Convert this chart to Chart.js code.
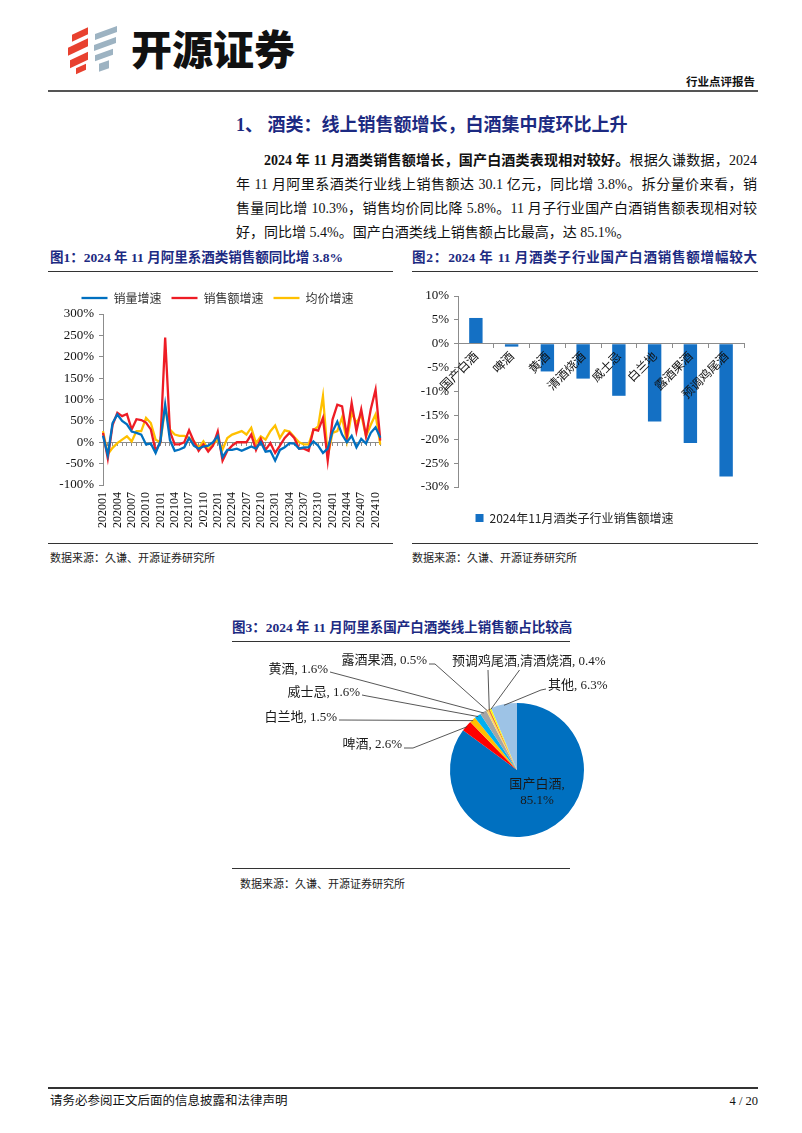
<!DOCTYPE html>
<html><head><meta charset="utf-8">
<script src="https://cdn.jsdelivr.net/npm/chart.js@4.4.1/dist/chart.umd.min.js"></script>
<style>
html,body{margin:0;padding:0;background:#fff;}
body{width:802px;height:1133px;position:relative;overflow:hidden;font-family:"Liberation Serif","Noto Sans CJK SC",serif;color:#111;}
.abs{position:absolute;white-space:nowrap;}
.hr{position:absolute;height:0;border-top:1.5px solid #333;}
.ftitle{position:absolute;font-weight:bold;color:#1c2a82;font-size:13.5px;line-height:16px;white-space:nowrap;}
.src{position:absolute;font-size:11px;color:#222;white-space:nowrap;}
.pl{position:absolute;left:236px;width:521px;font-size:14px;line-height:18px;text-align:justify;text-align-last:justify;white-space:nowrap;}
canvas{position:absolute;}
.lg{position:absolute;}
</style></head>
<body>
<!-- logo -->
<div class="lg" style="left:72px;top:31px;width:16px;height:7px;background:#e8412f;transform:skewY(-25deg);"></div>
<div class="lg" style="left:68px;top:43px;width:20px;height:8px;background:#e8412f;transform:skewY(-25deg);"></div>
<div class="lg" style="left:70px;top:56px;width:18px;height:8px;background:#e8412f;transform:skewY(-25deg);"></div>
<div class="lg" style="left:76px;top:66px;width:10px;height:6px;background:#e8412f;transform:skewY(-25deg);"></div>
<div class="lg" style="left:95px;top:30px;width:22px;height:6px;background:#9db3c2;transform:skewY(-20deg);"></div>
<div class="lg" style="left:94px;top:41px;width:22px;height:6px;background:#9db3c2;transform:skewY(-20deg);"></div>
<div class="lg" style="left:95px;top:52px;width:18px;height:6px;background:#9db3c2;transform:skewY(-20deg);"></div>
<div class="lg" style="left:99px;top:62px;width:10px;height:8px;background:#9db3c2;transform:skewY(-20deg);"></div>
<div class="abs" style="left:131px;top:22px;font-family:'Noto Sans CJK SC';font-weight:900;font-size:41px;line-height:50px;color:#111;">开源证券</div>
<div class="abs" style="left:686px;top:74px;font-family:'Noto Sans CJK SC';font-weight:bold;font-size:11.5px;line-height:14px;">行业点评报告</div>
<div class="hr" style="left:48px;top:90px;width:710px;border-top:2px solid #555;"></div>

<div class="abs" style="left:236px;top:113px;font-size:18px;line-height:24px;font-weight:bold;color:#1c2a82;">1、 酒类：线上销售额增长，白酒集中度环比上升</div>

<div class="pl" style="top:152px;left:264px;width:493px;"><b>2024 年 11 月酒类销售额增长，国产白酒类表现相对较好。</b>根据久谦数据，2024</div>
<div class="pl" style="top:176px;">年 11 月阿里系酒类行业线上销售额达 30.1 亿元，同比增 3.8%。拆分量价来看，销</div>
<div class="pl" style="top:200px;">售量同比增 10.3%，销售均价同比降 5.8%。11 月子行业国产白酒销售额表现相对较</div>
<div class="pl" style="top:224px;text-align-last:left;">好，同比增 5.4%。国产白酒类线上销售额占比最高，达 85.1%。</div>

<div class="ftitle" style="left:50px;top:250px;">图1：2024 年 11 月阿里系酒类销售额同比增 3.8%</div>
<div class="ftitle" style="left:412px;top:250px;width:345px;text-align:justify;text-align-last:justify;">图2：2024 年 11 月酒类子行业国产白酒销售额增幅较大</div>
<div class="hr" style="left:48px;top:271px;width:345px;"></div>
<div class="hr" style="left:412px;top:271px;width:346px;"></div>

<canvas id="c1" width="357" height="265" style="left:40px;top:280px;"></canvas>
<canvas id="c2" width="350" height="254" style="left:405px;top:280px;"></canvas>

<div class="hr" style="left:48px;top:543px;width:345px;"></div>
<div class="hr" style="left:412px;top:543px;width:346px;"></div>
<div class="src" style="left:50px;top:549px;">数据来源：久谦、开源证券研究所</div>
<div class="src" style="left:412px;top:549px;">数据来源：久谦、开源证券研究所</div>

<div class="ftitle" style="left:232px;top:620px;width:338px;text-align:center;">图3：2024 年 11 月阿里系国产白酒类线上销售额占比较高</div>
<div class="hr" style="left:232px;top:641px;width:338px;"></div>
<canvas id="c3" width="388" height="225" style="left:232px;top:641px;"></canvas>
<div class="hr" style="left:232px;top:868px;width:338px;"></div>
<div class="src" style="left:240px;top:875px;">数据来源：久谦、开源证券研究所</div>

<div class="hr" style="left:48px;top:1087px;width:710px;border-top:2px solid #333;"></div>
<div class="abs" style="left:50px;top:1093px;font-size:12.5px;line-height:16px;">请务必参阅正文后面的信息披露和法律声明</div>
<div class="abs" style="left:718px;top:1093px;width:40px;text-align:right;font-size:12.5px;line-height:16px;">4 / 20</div>

<script>
// ---------- Figure 1 data ----------
const months = ['202001','202002','202003','202004','202005','202006','202007','202008','202009','202010','202011','202012',
'202101','202102','202103','202104','202105','202106','202107','202108','202109','202110','202111','202112',
'202201','202202','202203','202204','202205','202206','202207','202208','202209','202210','202211','202212',
'202301','202302','202303','202304','202305','202306','202307','202308','202309','202310','202311','202312',
'202401','202402','202403','202404','202405','202406','202407','202408','202409','202410','202411'];
const volumeGrowth = [15,-30,45,65,50,42,25,22,18,-5,-3,-25,2,88,5,-20,-17,-12,10,-8,-15,-10,-8,0,15,-35,-18,-18,-15,-20,-15,-10,-15,0,-22,-20,-43,-18,-12,-2,-3,-15,-12,-12,2,-8,-25,-15,25,48,18,0,15,-12,8,-3,22,35,10.3];
const salesGrowth = [22,-38,40,69,61,66,30,54,52,46,30,-20,0,245,25,-5,-5,0,28,2,-20,-5,-22,-8,25,-43,-20,-8,0,0,0,18,-18,8,-18,-2,-25,-8,10,22,10,-15,-15,-20,30,27,57,-43,53,88,84,14,92,26,77,14,77,123,3.8];
const priceGrowth = [26,-28,-13,-2,6,14,2,26,26,57,45,6,0,82,30,18,15,15,10,2,-13,2,-17,-5,6,-17,10,18,22,26,18,34,-2,14,6,26,39,10,28,25,12,0,-5,-5,28,37,108,-33,22,26,58,2,69,45,65,14,41,65,-5.8];
const seriesNames1 = ['销量增速','销售额增速','均价增速'];
const yTicks1 = {min:-100, max:300, step:50};

// ---------- Figure 2 data ----------
const subCategories = ['国产白酒','啤酒','黄酒','清酒烧酒','威士忌','白兰地','露酒果酒','预调鸡尾酒'];
const subGrowth = [5.4,-0.6,-5.8,-7.3,-10.9,-16.3,-20.8,-27.8];
const seriesName2 = '2024年11月酒类子行业销售额增速';
const yTicks2 = {min:-30, max:10, step:5};

// ---------- Figure 3 data ----------
const shareNames = ['国产白酒','啤酒','白兰地','威士忌','黄酒','露酒果酒','预调鸡尾酒','清酒烧酒','其他'];
const shareValues = [85.1,2.6,1.5,1.6,1.6,0.5,0.4,0.4,6.3];

// ---------- styles ----------
Chart.defaults.animation = false;
Chart.defaults.font.family = '"Liberation Serif","Noto Sans CJK SC",serif';
Chart.defaults.color = '#111';
const NUM_FONT = {family:'"Liberation Serif","Noto Sans CJK SC",serif', size:13};
const CJK_FONT = {family:'"Noto Sans CJK SC","Liberation Serif",sans-serif', size:12};
const AXIS_GRAY = '#8c8c8c';

// Figure 1
new Chart(document.getElementById('c1'), {
  type:'line',
  data:{labels:months, datasets:[
    {label:seriesNames1[0], data:volumeGrowth, borderColor:'#0070C0', backgroundColor:'#0070C0', borderWidth:2.3, pointRadius:0, tension:0},
    {label:seriesNames1[1], data:salesGrowth, borderColor:'#EE1C25', backgroundColor:'#EE1C25', borderWidth:2.3, pointRadius:0, tension:0},
    {label:seriesNames1[2], data:priceGrowth, borderColor:'#FFC000', backgroundColor:'#FFC000', borderWidth:2.3, pointRadius:0, tension:0}
  ]},
  options:{responsive:false, layout:{padding:{top:2,left:0,right:2,bottom:0}},
    plugins:{legend:{position:'top', labels:{usePointStyle:true, pointStyle:'line', pointStyleWidth:26, boxHeight:12, padding:10, font:CJK_FONT, color:'#333'}}, tooltip:{enabled:false}},
    scales:{
      x:{type:'category', position:'bottom', offset:false, border:{display:false}, grid:{display:false, drawTicks:false},
         ticks:{autoSkip:false, maxRotation:90, minRotation:90, padding:7, font:{family:NUM_FONT.family,size:12}, color:'#111',
           callback:function(v,i){return i%3===0 ? this.getLabelForValue(v) : null;}},
         afterFit:s=>{s.height=60;}},
      x2:{type:'category', axis:'x', labels:months, position:{y:0}, offset:false, border:{display:true,color:AXIS_GRAY,width:1},
         grid:{drawOnChartArea:false, drawTicks:true, tickLength:3, color:AXIS_GRAY}, ticks:{display:false}},
      y:{min:yTicks1.min, max:yTicks1.max, border:{display:true,color:AXIS_GRAY,width:1},
         grid:{drawOnChartArea:false, drawTicks:true, tickLength:4, color:AXIS_GRAY},
         ticks:{stepSize:yTicks1.step, padding:5, font:NUM_FONT, color:'#111', callback:v=>v+'%'},
         afterFit:s=>{s.width=63;}}
    }}
});

// Figure 2
new Chart(document.getElementById('c2'), {
  type:'bar',
  data:{labels:subCategories, datasets:[{label:seriesName2, data:subGrowth, backgroundColor:'#1470C4', borderWidth:0, barPercentage:0.75, categoryPercentage:0.5}]},
  options:{responsive:false, layout:{padding:{top:16,left:0,right:11,bottom:0}},
    plugins:{legend:{position:'bottom', labels:{boxWidth:8, boxHeight:8, padding:25, font:CJK_FONT, color:'#222'}}, tooltip:{enabled:false}},
    scales:{
      x:{type:'category', position:{y:0}, border:{display:true,color:AXIS_GRAY,width:1,z:1},
         grid:{drawOnChartArea:false, drawTicks:true, tickLength:4, color:AXIS_GRAY, z:1},
         ticks:{autoSkip:false, maxRotation:45, minRotation:45, padding:1, font:CJK_FONT, color:'#111', z:2}},
      y:{min:yTicks2.min, max:yTicks2.max, border:{display:true,color:AXIS_GRAY,width:1},
         grid:{drawOnChartArea:false, drawTicks:true, tickLength:4, color:AXIS_GRAY},
         ticks:{stepSize:yTicks2.step, padding:5, font:NUM_FONT, color:'#111', callback:v=>v+'%'},
         afterFit:s=>{s.width=53;}}
    }}
});

// Figure 3 label layout (offsets from pie centre, px)
const pieLabelLayout = [
  {inside:true, tx:20, ty:15},
  {tx:-115, ty:-25, align:'right', lx:-113, ly:-22, ex:-104, ey:-22},
  {tx:-180, ty:-52, align:'right', lx:-178, ly:-50},
  {tx:-157, ty:-77, align:'right', lx:-155, ly:-75, ex:-150, ey:-74},
  {tx:-189, ty:-100, align:'right', lx:-187, ly:-98},
  {tx:-90, ty:-109, align:'right', lx:-88, ly:-106, ex:-82, ey:-106},
  {tx:-65, ty:-108, align:'left', lx:-29, ly:-100},
  {tx:3, ty:-108, align:'left', lx:4, ly:-102, bg:true},
  {tx:31, ty:-84, align:'left', lx:29, ly:-81, ex:24, ey:-80}
];
const pieLabels = {
  id:'pieLabels',
  afterDatasetsDraw(chart){
    const ctx = chart.ctx, meta = chart.getDatasetMeta(0), ds = chart.data.datasets[0];
    ctx.save();
    ctx.font = '13px "Liberation Serif","Noto Sans CJK SC",serif';
    ctx.textBaseline = 'middle';
    pieLabelLayout.forEach((lay,i)=>{
      const arc = meta.data[i];
      const cx = arc.x, cy = arc.y;
      const name = chart.data.labels[i], val = ds.data[i].toFixed(1)+'%';
      if (lay.inside){
        ctx.fillStyle = '#1a1a1a'; ctx.textAlign = 'center';
        ctx.fillText(name+',', cx+lay.tx, cy+lay.ty);
        ctx.fillText(val, cx+lay.tx, cy+lay.ty+16);
        return;
      }
      const mid = (arc.startAngle+arc.endAngle)/2, r = arc.outerRadius;
      const px = cx+Math.cos(mid)*(r-1), py = cy+Math.sin(mid)*(r-1);
      ctx.strokeStyle = '#444'; ctx.lineWidth = 0.9;
      ctx.beginPath(); ctx.moveTo(cx+lay.lx, cy+lay.ly);
      if (lay.ex!==undefined) ctx.lineTo(cx+lay.ex, cy+lay.ey);
      ctx.lineTo(px, py); ctx.stroke();
      const txt = name+', '+val;
      ctx.textAlign = lay.align;
      if (lay.bg){
        const w = ctx.measureText(txt).width;
        const x0 = lay.align==='left' ? cx+lay.tx-1 : cx+lay.tx-w-1;
        ctx.fillStyle = '#fff'; ctx.fillRect(x0, cy+lay.ty-8, w+2, 16);
      }
      ctx.fillStyle = '#1a1a1a';
      ctx.fillText(txt, cx+lay.tx, cy+lay.ty);
    });
    ctx.restore();
  }
};
new Chart(document.getElementById('c3'), {
  type:'pie',
  data:{labels:shareNames, datasets:[{data:shareValues, borderWidth:0,
    backgroundColor:['#0070C0','#FF0000','#FFC000','#00B0F0','#A5A5A5','#FFD966','#ED7D31','#FFFF00','#9DC3E6']}]},
  options:{responsive:false, layout:{padding:{left:218,right:36,top:62,bottom:29}},
    plugins:{legend:{display:false}, tooltip:{enabled:false}}},
  plugins:[pieLabels]
});
</script>
</body></html>
